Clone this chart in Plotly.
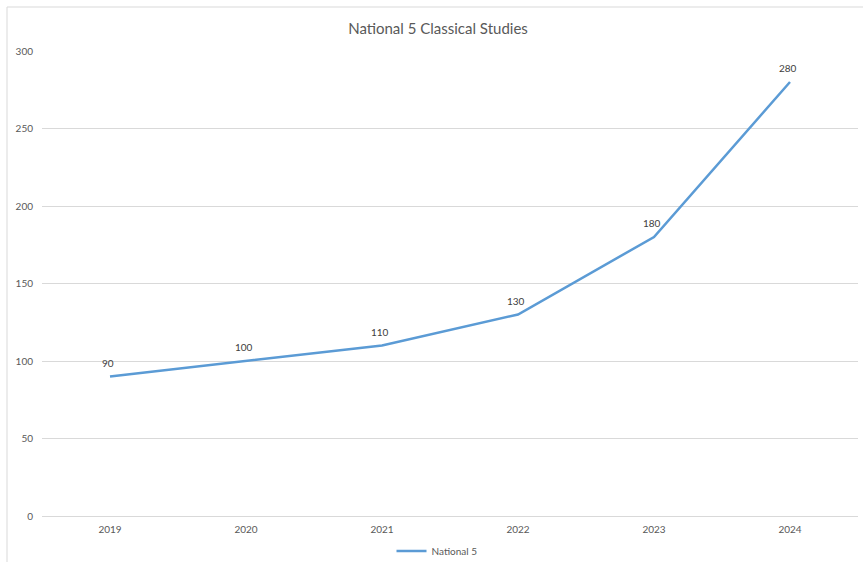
import plotly.graph_objects as go

years = ["2019", "2020", "2021", "2022", "2023", "2024"]
entries = [90, 100, 110, 130, 180, 280]
series_name = "National 5"
chart_title = "National 5 Classical Studies"
y_ticks = [0, 50, 100, 150, 200, 250, 300]

W, H = 863, 566
ML, MR, MT, MB = 42, 5, 51, 50
pw = W - ML - MR
ph = H - MT - MB
FONT = "Lato, Carlito, sans-serif"

fig = go.Figure()
fig.add_trace(go.Scatter(
    x=years, y=entries, name=series_name,
    mode="lines",
    line=dict(color="#5B9BD5", width=2.5),
))

# data labels above each point (category axis positions are the list indices)
for i, v in enumerate(entries):
    fig.add_annotation(x=i, y=v, xref="x", yref="y", text=str(v), showarrow=False,
                       yshift=14, xshift=-2,
                       font=dict(family=FONT, size=10, color="#404040"))

# outer chart frame (left and top edges)
fx0 = (7 - ML) / pw
fy1 = 1 + (MT - 7) / ph
fy0 = -(MB - 4) / ph
fig.add_shape(type="line", xref="paper", yref="paper", x0=fx0, x1=fx0, y0=fy0, y1=fy1,
              line=dict(color="#D9D9D9", width=1))
fig.add_shape(type="line", xref="paper", yref="paper", x0=fx0, x1=1 + MR / pw, y0=fy1, y1=fy1,
              line=dict(color="#D9D9D9", width=1))

fig.update_layout(
    width=W, height=H,
    margin=dict(l=ML, r=MR, t=MT, b=MB, autoexpand=False),
    paper_bgcolor="white", plot_bgcolor="white",
    title=dict(text=chart_title, x=(438 - ML) / pw, xref="paper", xanchor="center",
               y=1 - 29 / H, yanchor="middle",
               font=dict(family=FONT, size=15, color="#595959")),
    font=dict(family=FONT, size=10, color="#595959"),
    xaxis=dict(type="category", range=[-0.5, 5.5], showgrid=False, showline=False, ticks="",
               automargin=False, tickfont=dict(size=10, color="#595959"), ticklabelstandoff=6),
    yaxis=dict(range=[0, 300], tickvals=y_ticks, showgrid=True, gridcolor="#D9D9D9",
               gridwidth=1, zeroline=True, zerolinecolor="#D9D9D9", zerolinewidth=1,
               automargin=False, ticks="", tickfont=dict(size=10, color="#595959"),
               ticklabelstandoff=8),
    showlegend=True,
    legend=dict(orientation="h", x=(437 - ML) / pw, xanchor="center",
                y=-(551 - (H - MB)) / ph, yanchor="middle",
                font=dict(size=10, color="#595959"), bgcolor="rgba(0,0,0,0)"),
)

fig.write_html("out.html")
